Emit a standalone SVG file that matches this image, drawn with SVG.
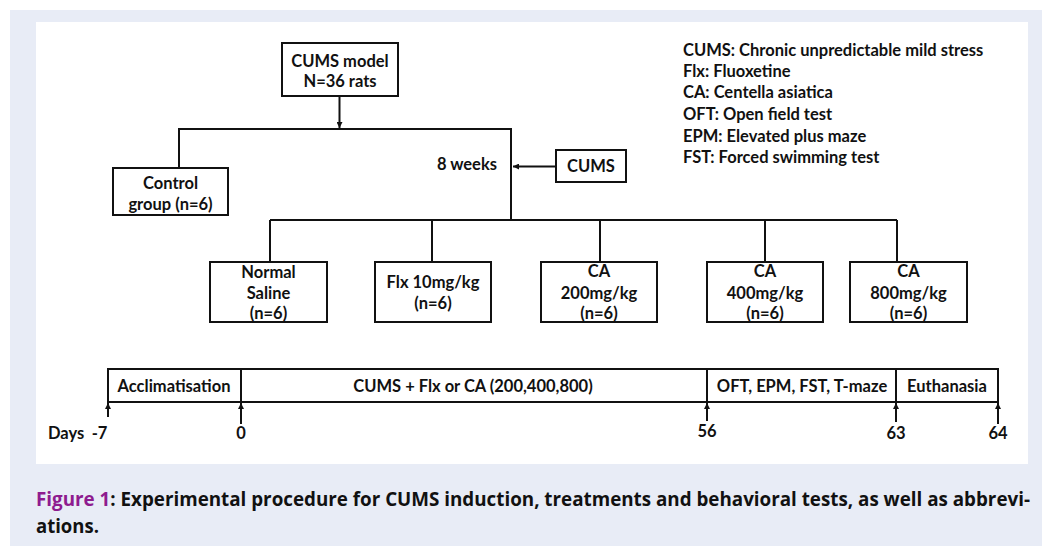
<svg xmlns="http://www.w3.org/2000/svg" width="1042" height="547" viewBox="0 0 1042 547">
<defs>
<marker id="ah" viewBox="0 0 10 10" refX="10" refY="5" markerWidth="6" markerHeight="6" markerUnits="userSpaceOnUse" orient="auto">
<path d="M0,0 L10,5 L0,10 z" fill="#111"/>
</marker>
</defs>
<style>
.box{fill:#fff;stroke:#111;stroke-width:2}
.ln{fill:none;stroke:#111;stroke-width:2}
.t{font-family:Lato,"Liberation Sans",sans-serif;font-weight:700;font-size:16.5px;fill:#111;text-anchor:middle}
.tl{font-family:Lato,"Liberation Sans",sans-serif;font-weight:700;font-size:16.5px;fill:#111}
.cap{font-family:"Open Sans","Liberation Sans",sans-serif;font-weight:700;font-size:19px;fill:#111}
</style>
<rect x="10" y="10" width="1032" height="536" fill="#E8ECF6"/>
<rect x="36" y="22" width="992" height="442" fill="#fff"/>

<g id="connectors">
<line class="ln" x1="339.5" y1="96" x2="339.5" y2="128" marker-end="url(#ah)"/>
<polyline class="ln" points="179,168 179,129 511,129 511,220"/>
<line class="ln" x1="556" y1="166.5" x2="513" y2="166.5" marker-end="url(#ah)"/>
<line class="ln" x1="270" y1="220" x2="897" y2="220"/>
<line class="ln" x1="270" y1="220" x2="270" y2="262"/>
<line class="ln" x1="432" y1="220" x2="432" y2="262"/>
<line class="ln" x1="600" y1="220" x2="600" y2="262"/>
<line class="ln" x1="765" y1="220" x2="765" y2="262"/>
<line class="ln" x1="897" y1="220" x2="897" y2="262"/>
<line class="ln" x1="108" y1="417" x2="108" y2="403" marker-end="url(#ah)"/>
<line class="ln" x1="241" y1="424" x2="241" y2="403" marker-end="url(#ah)"/>
<line class="ln" x1="707" y1="421" x2="707" y2="403" marker-end="url(#ah)"/>
<line class="ln" x1="896" y1="422" x2="896" y2="403" marker-end="url(#ah)"/>
<line class="ln" x1="998" y1="424" x2="998" y2="403" marker-end="url(#ah)"/>
</g>

<g id="cums-model">
<rect class="box" x="282" y="43" width="116" height="53"/>
<text class="t" x="340" y="67">CUMS model</text>
<text class="t" x="340" y="87">N=36 rats</text>
</g>
<g id="control">
<rect class="box" x="113" y="168" width="115" height="47"/>
<text class="t" x="170.5" y="189">Control</text>
<text class="t" x="170.5" y="210">group (n=6)</text>
</g>
<g id="weeks">
<text class="t" x="497" y="170" style="text-anchor:end">8 weeks</text>
</g>
<g id="cums">
<rect class="box" x="556" y="150" width="70" height="32"/>
<text class="t" x="591" y="172">CUMS</text>
</g>
<g id="legend">
<text class="tl" x="683" y="56">CUMS: Chronic unpredictable mild stress</text>
<text class="tl" x="683" y="77">Flx: Fluoxetine</text>
<text class="tl" x="683" y="98">CA: Centella asiatica</text>
<text class="tl" x="683" y="120">OFT: Open field test</text>
<text class="tl" x="683" y="142">EPM: Elevated plus maze</text>
<text class="tl" x="683" y="163">FST: Forced swimming test</text>
</g>
<g id="saline">
<rect class="box" x="210" y="262" width="117" height="60"/>
<text class="t" x="268.5" y="278">Normal</text>
<text class="t" x="268.5" y="299">Saline</text>
<text class="t" x="268.5" y="319">(n=6)</text>
</g>
<g id="flx">
<rect class="box" x="375" y="262" width="116" height="60"/>
<text class="t" x="433" y="288">Flx 10mg/kg</text>
<text class="t" x="433" y="309">(n=6)</text>
</g>
<g id="ca200">
<rect class="box" x="541" y="262" width="116" height="60"/>
<text class="t" x="599" y="277">CA</text>
<text class="t" x="599" y="299">200mg/kg</text>
<text class="t" x="599" y="319">(n=6)</text>
</g>
<g id="ca400">
<rect class="box" x="707" y="262" width="116" height="60"/>
<text class="t" x="765" y="277">CA</text>
<text class="t" x="765" y="299">400mg/kg</text>
<text class="t" x="765" y="319">(n=6)</text>
</g>
<g id="ca800">
<rect class="box" x="850" y="262" width="117" height="60"/>
<text class="t" x="908.5" y="277">CA</text>
<text class="t" x="908.5" y="299">800mg/kg</text>
<text class="t" x="908.5" y="319">(n=6)</text>
</g>
<g id="timeline">
<rect class="box" x="108" y="369" width="890" height="33"/>
<line class="ln" x1="241" y1="369" x2="241" y2="402"/>
<line class="ln" x1="707" y1="369" x2="707" y2="402"/>
<line class="ln" x1="896" y1="369" x2="896" y2="402"/>
<text class="t" x="174" y="392">Acclimatisation</text>
<text class="t" x="473" y="392">CUMS + Flx or CA (200,400,800)</text>
<text class="t" x="802" y="392">OFT, EPM, FST, T-maze</text>
<text class="t" x="947" y="392">Euthanasia</text>
</g>
<g id="days">
<text class="tl" x="48" y="439">Days</text>
<text class="t" x="99.5" y="439">-7</text>
<text class="t" x="241" y="439">0</text>
<text class="t" x="707" y="437">56</text>
<text class="t" x="896" y="439">63</text>
<text class="t" x="998" y="439">64</text>
</g>
<g id="caption">
<text class="cap" x="36" y="506" textLength="994" lengthAdjust="spacingAndGlyphs"><tspan fill="#8E1B8F">Figure 1</tspan>: Experimental procedure for CUMS induction, treatments and behavioral tests, as well as abbrevi-</text>
<text class="cap" x="36" y="533" textLength="63" lengthAdjust="spacingAndGlyphs">ations.</text>
</g>
</svg>
